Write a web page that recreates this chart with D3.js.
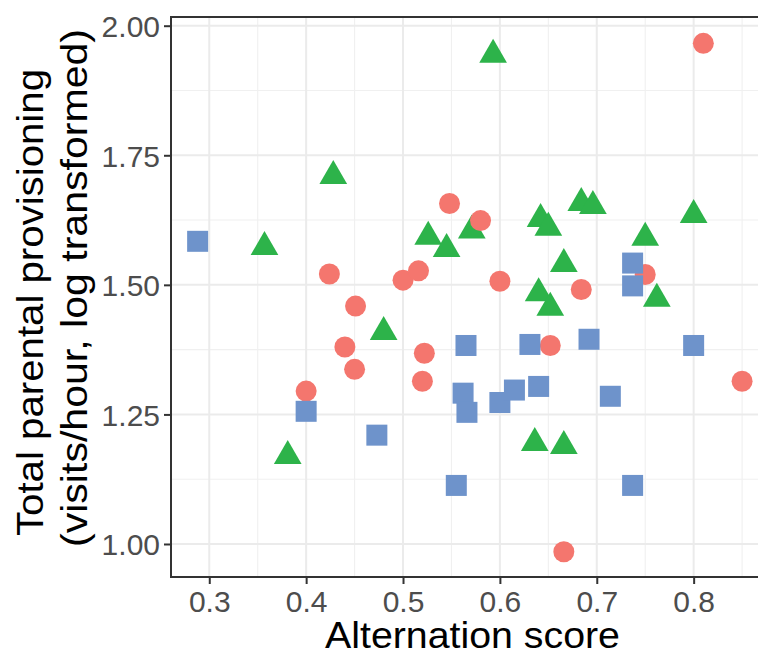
<!DOCTYPE html>
<html><head><meta charset="utf-8">
<script src="https://cdn.jsdelivr.net/npm/d3@7"></script>
<style>html,body{margin:0;padding:0;background:#fff;overflow:hidden}</style>
</head><body>
<svg id="chart" width="758" height="654"></svg>
<script>
// Group A (circles)
const circleX = [0.424,0.500,0.516,0.548,0.580,0.451,0.440,0.450,0.522,0.520,0.400,0.600,0.684,0.750,0.652,0.850,0.666,0.810];
const circleY = [1.521,1.509,1.527,1.657,1.624,1.459,1.380,1.337,1.368,1.314,1.295,1.507,1.491,1.520,1.383,1.314,0.985,1.966];
// Group B (triangles)
const triX = [0.357,0.428,0.526,0.545,0.571,0.593,0.642,0.650,0.684,0.696,0.800,0.750,0.666,0.640,0.652,0.762,0.480,0.381,0.636,0.666];
const triY = [1.573,1.710,1.593,1.569,1.605,1.944,1.627,1.610,1.658,1.652,1.635,1.591,1.540,1.484,1.456,1.473,1.409,1.170,1.195,1.189];
// Group C (squares)
const sqX = [0.288,0.400,0.473,0.555,0.565,0.562,0.566,0.600,0.615,0.640,0.631,0.692,0.714,0.737,0.737,0.737,0.800];
const sqY = [1.584,1.256,1.210,1.113,1.383,1.291,1.254,1.273,1.297,1.304,1.385,1.395,1.285,1.542,1.498,1.113,1.383];

const xTicks = [0.3,0.4,0.5,0.6,0.7,0.8];
const xMinor = [0.35,0.45,0.55,0.65,0.75,0.85];
const yTicks = [1.00,1.25,1.50,1.75,2.00];
const yMinor = [1.125,1.375,1.625,1.875];
const xTitle = "Alternation score";
const yTitle = ["Total parental provisioning", "(visits/hour, log transformed)"];

const svg = d3.select("#chart");
const L = 171, T = 17, B = 577, R = 769.4;
const x = d3.scaleLinear().domain([0.2605, 0.8782]).range([L, R]);
const y = d3.scaleLinear().domain([0.9363, 2.0168]).range([B, T]);
const font = "'Liberation Sans', Arial, Helvetica, sans-serif";

const g = svg.append("g");
// minor grid
g.selectAll(".xm").data(xMinor).enter().append("line")
  .attr("x1", d => x(d)).attr("x2", d => x(d)).attr("y1", T).attr("y2", B)
  .attr("stroke", "#F0F0F0").attr("stroke-width", 1.1);
g.selectAll(".ym").data(yMinor).enter().append("line")
  .attr("y1", d => y(d)).attr("y2", d => y(d)).attr("x1", L).attr("x2", R)
  .attr("stroke", "#F0F0F0").attr("stroke-width", 1.1);
// major grid
g.selectAll(".xg").data(xTicks).enter().append("line")
  .attr("x1", d => x(d)).attr("x2", d => x(d)).attr("y1", T).attr("y2", B)
  .attr("stroke", "#EBEBEB").attr("stroke-width", 2);
g.selectAll(".yg").data(yTicks).enter().append("line")
  .attr("y1", d => y(d)).attr("y2", d => y(d)).attr("x1", L).attr("x2", R)
  .attr("stroke", "#EBEBEB").attr("stroke-width", 2);

// triangles
const tri = (cx, cy) => {
  const r = 16, hw = 13.85;
  return `M${cx},${cy - r}L${cx + hw},${cy + r / 2}L${cx - hw},${cy + r / 2}Z`;
};
g.selectAll(".tri").data(triX.map((v, i) => [v, triY[i]])).enter().append("path")
  .attr("d", d => tri(x(d[0]), y(d[1]))).attr("fill", "#2DB34A");
// circles
g.selectAll(".cir").data(circleX.map((v, i) => [v, circleY[i]])).enter().append("circle")
  .attr("cx", d => x(d[0])).attr("cy", d => y(d[1])).attr("r", 10.5).attr("fill", "#F4766E");
// squares
g.selectAll(".sq").data(sqX.map((v, i) => [v, sqY[i]])).enter().append("rect")
  .attr("x", d => x(d[0]) - 10.5).attr("y", d => y(d[1]) - 10.5)
  .attr("width", 21).attr("height", 21).attr("fill", "#6E93CB");

// panel border
svg.append("rect").attr("x", L).attr("y", T).attr("width", R - L).attr("height", B - T)
  .attr("fill", "none").attr("stroke", "#333333").attr("stroke-width", 2);

// axes
const xAxis = svg.append("g").attr("transform", `translate(0,${B})`)
  .call(d3.axisBottom(x).tickValues(xTicks).tickFormat(d3.format(".1f")).tickSizeInner(7).tickSizeOuter(0).tickPadding(6));
const yAxis = svg.append("g").attr("transform", `translate(${L},0)`)
  .call(d3.axisLeft(y).tickValues(yTicks).tickFormat(d3.format(".2f")).tickSizeInner(7).tickSizeOuter(0).tickPadding(4));
[xAxis, yAxis].forEach(a => {
  a.select(".domain").remove();
  a.selectAll(".tick line").attr("stroke", "#333333").attr("stroke-width", 2);
  a.selectAll(".tick text").attr("fill", "#4D4D4D").style("font-family", font).style("font-size", "30px");
});
xAxis.selectAll(".tick text").attr("dy", null).attr("y", 35.3);
yAxis.selectAll(".tick text").attr("dy", "0.36em");

// titles
svg.append("text").attr("x", 472.5).attr("y", 647.5).attr("text-anchor", "middle")
  .attr("textLength", 295).attr("lengthAdjust", "spacingAndGlyphs")
  .style("font-family", font).style("font-size", "37px").attr("fill", "#000").text(xTitle);
svg.append("text").attr("transform", `translate(43,302.5) rotate(-90)`).attr("text-anchor", "middle")
  .attr("textLength", 467).attr("lengthAdjust", "spacingAndGlyphs")
  .style("font-family", font).style("font-size", "37px").attr("fill", "#000").text(yTitle[0]);
svg.append("text").attr("transform", `translate(87,288) rotate(-90)`).attr("text-anchor", "middle")
  .attr("textLength", 518).attr("lengthAdjust", "spacingAndGlyphs")
  .style("font-family", font).style("font-size", "37px").attr("fill", "#000").text(yTitle[1]);
</script>
</body></html>
